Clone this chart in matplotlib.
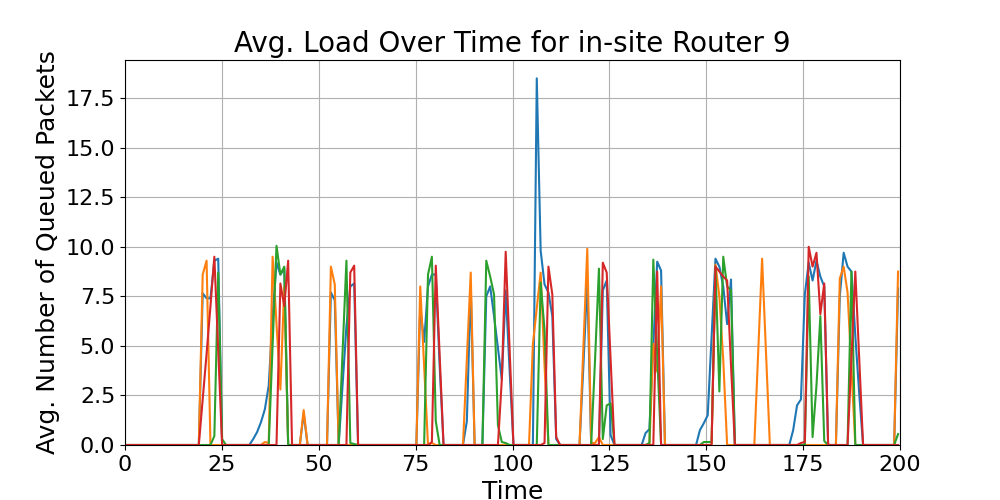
"""Avg. load over time for in-site router 9 (four queue series)."""
import numpy as np
import matplotlib
matplotlib.use("Agg")
import matplotlib.pyplot as plt

N_SAMPLES = 200
TIME_STEP = 1.0025

# non-zero samples per series, {sample index: avg queued packets}
BLUE = {
    20: 7.65, 21: 7.4, 22: 7.4, 23: 9.3, 24: 9.4,
    33: 0.3, 34: 0.65, 35: 1.15, 36: 1.8, 37: 3.0, 38: 6.5, 39: 9.2, 40: 8.6, 41: 8.9,
    46: 1.6,
    53: 7.7, 54: 7.3, 56: 3.0, 57: 6.0, 58: 8.0, 59: 8.15,
    76: 7.0, 77: 5.2, 78: 8.0, 79: 8.6, 80: 8.6, 81: 4.0,
    88: 1.2, 89: 8.0,
    93: 7.5, 94: 8.0, 95: 6.5, 96: 4.9, 97: 3.3, 98: 7.8, 99: 3.8,
    106: 18.5, 107: 9.8, 108: 8.1, 109: 7.7, 110: 6.5, 111: 0.3,
    118: 4.0, 119: 8.3,
    123: 7.8, 124: 8.3, 125: 0.5,
    134: 0.6, 135: 0.8, 136: 5.0, 137: 9.25, 138: 8.8,
    148: 0.75, 149: 1.1, 150: 1.5, 151: 5.5, 152: 9.4, 153: 9.0, 154: 8.0, 155: 6.1, 156: 8.35,
    172: 0.75, 173: 2.0, 174: 2.3, 175: 7.6, 176: 9.2, 177: 8.3, 178: 9.3, 179: 8.5, 180: 8.0,
    184: 7.5, 185: 9.7, 186: 9.0, 187: 8.75, 188: 5.5, 189: 2.6,
    199: 7.9,
}
ORANGE = {
    20: 8.6, 21: 9.3,
    36: 0.15, 37: 0.1, 38: 9.5, 39: 6.1, 40: 2.8, 41: 8.0,
    46: 1.76,
    53: 9.0, 54: 8.1,
    76: 8.0, 77: 4.0, 79: 0.1,
    88: 4.3, 89: 8.7,
    105: 5.1, 106: 6.9, 107: 8.7, 108: 4.0,
    118: 4.9, 119: 9.9, 120: 0.1, 121: 0.1, 122: 0.4,
    136: 5.1, 137: 3.7, 138: 8.0,
    152: 9.1, 153: 7.5, 154: 4.3,
    163: 4.7, 164: 9.4, 165: 4.7,
    184: 8.4, 185: 9.0, 186: 7.7, 187: 3.8,
    199: 8.75,
}
GREEN = {
    23: 0.45, 24: 8.7, 25: 0.3,
    38: 5.0, 39: 10.05, 40: 8.6, 41: 9.0,
    56: 4.6, 57: 9.3, 58: 0.1, 59: 0.05,
    78: 8.6, 79: 9.5, 80: 1.2,
    93: 9.3, 94: 8.5, 95: 7.6, 96: 1.0, 97: 0.15, 98: 0.1,
    107: 8.2, 108: 5.8,
    121: 4.3, 122: 8.9, 123: 0.3, 124: 2.0, 125: 2.1,
    135: 0.1, 136: 9.35, 137: 4.5,
    149: 0.15, 150: 0.15, 151: 0.15, 152: 9.0, 153: 2.7, 154: 9.5, 155: 8.0, 156: 7.8,
    176: 8.5, 177: 0.4, 178: 3.0, 179: 6.5, 180: 0.2,
    187: 8.75,
    199: 0.55,
}
RED = {
    20: 2.3, 21: 4.6, 22: 7.0, 23: 9.5, 24: 4.8,
    40: 8.15, 41: 7.0, 42: 9.3,
    58: 8.7, 59: 9.05,
    79: 0.15, 80: 9.05, 81: 4.5,
    97: 3.3, 98: 9.75, 99: 4.9,
    108: 0.1, 109: 9.0, 110: 7.6, 111: 0.4,
    123: 9.2, 124: 8.7, 125: 4.3,
    137: 8.75,
    152: 9.0, 153: 8.75, 154: 8.5, 155: 8.3, 156: 4.0,
    174: 0.1, 175: 0.15, 176: 10.0, 177: 9.0, 178: 9.7, 179: 6.6, 180: 8.15,
    187: 4.4, 188: 8.75, 189: 4.4,
}


def to_series(points):
    vals = np.zeros(N_SAMPLES)
    for i, v in points.items():
        vals[i] = v
    return vals


time = np.arange(N_SAMPLES) * TIME_STEP

fig, ax = plt.subplots(figsize=(10, 5), dpi=100)
for pts in (BLUE, ORANGE, GREEN, RED):
    ax.plot(time, to_series(pts))

ax.set_xlim(0, 200)
ax.set_ylim(bottom=0)
ax.set_title("Avg. Load Over Time for in-site Router 9", fontsize=20)
ax.set_xlabel("Time", fontsize=18)
ax.set_ylabel("Avg. Number of Queued Packets", fontsize=18)
ax.tick_params(labelsize=16)
ax.grid(True)

fig.savefig("out.png")
